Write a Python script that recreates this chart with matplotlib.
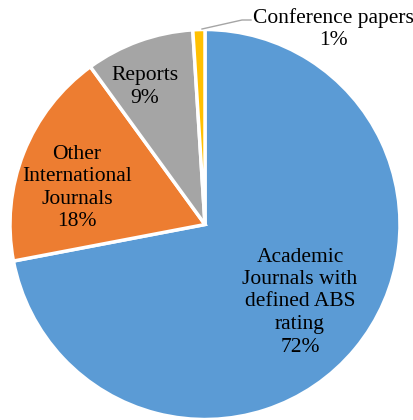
import numpy as np
import matplotlib.pyplot as plt

plt.rcParams['font.family'] = ['Liberation Serif', 'DejaVu Serif']

labels = ['Academic\nJournals with\ndefined ABS\nrating', 'Other\nInternational\nJournals', 'Reports', 'Conference papers']
values = [72, 18, 9, 1]
colors = ['#5B9BD5', '#ED7D31', '#A5A5A5', '#FFC000']

W, H = 414, 420
cx, cy, R = 205, 224.5, 195   # pie centre / radius in pixels (from top)

fig = plt.figure(figsize=(W / 100, H / 100), dpi=100)
ax = fig.add_axes([0, 0, 1, 1])
ax.pie(values, colors=colors, startangle=90, counterclock=False,
       wedgeprops=dict(edgecolor='white', linewidth=2.5))
ax.set_aspect('auto')
ax.set_xlim(-cx / R, (W - cx) / R)
ax.set_ylim(-(H - cy) / R, cy / R)
ax.axis('off')

def px(x, y):
    return (x - cx) / R, (cy - y) / R

fs = 15.5
ls = 1.25
pct = [f'{v}%' for v in values]
ax.text(*px(300, 302), labels[0] + '\n' + pct[0], ha='center', va='center', fontsize=fs, linespacing=ls)
ax.text(*px(77, 188), labels[1] + '\n' + pct[1], ha='center', va='center', fontsize=fs, linespacing=ls)
ax.text(*px(145, 87), labels[2] + '\n' + pct[2], ha='center', va='center', fontsize=fs, linespacing=ls)
ax.text(*px(333, 29), labels[3] + '\n' + pct[3], ha='center', va='center', fontsize=fs, linespacing=ls)

# leader line for the small slice
lx = [px(202, 29)[0], px(242, 20)[0], px(251, 20)[0]]
ly = [px(202, 29)[1], px(242, 20)[1], px(251, 20)[1]]
ax.plot(lx, ly, color='#A5A5A5', linewidth=1)

fig.savefig('out.png', dpi=100)
